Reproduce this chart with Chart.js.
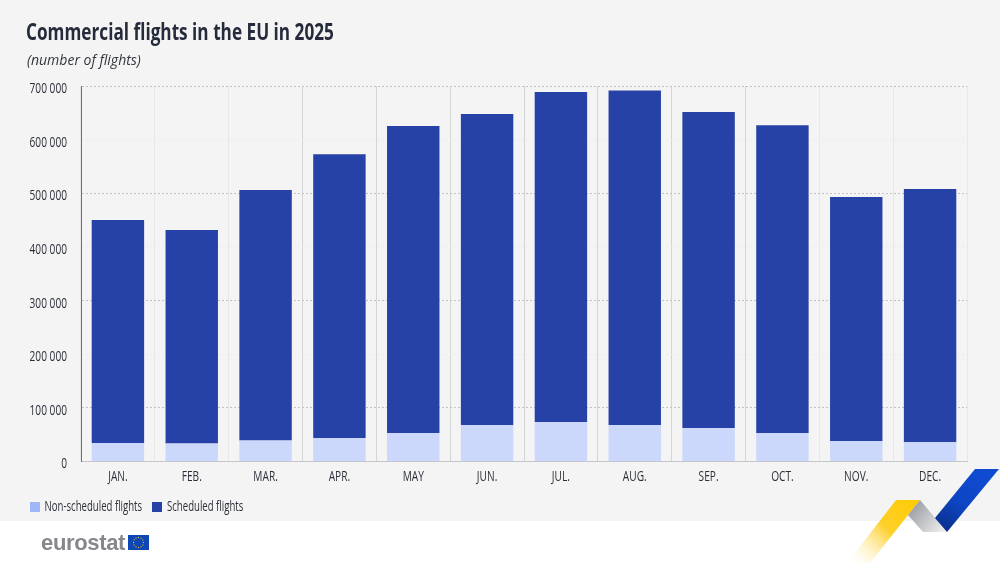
<!DOCTYPE html>
<html>
<head>
<meta charset="utf-8">
<title>Commercial flights in the EU in 2025</title>
<script src="https://cdn.jsdelivr.net/npm/chart.js@4"></script>
<style>
  html, body { margin: 0; padding: 0; background: #fff; }
  #wrap { position: relative; width: 1000px; height: 563px; overflow: hidden; }
  canvas { display: block; }
  #title { position: absolute; left: 26px; top: 14px; font: bold 24px "Open Sans", sans-serif; color: #252b3b; white-space: nowrap; transform-origin: left top; }
  #sub { position: absolute; left: 27px; top: 50px; font: italic 14px "Open Sans", sans-serif; color: #33363f; white-space: nowrap; }
  #logo { position: absolute; left: 41px; top: 530px; font: bold 22px "Liberation Sans", sans-serif; color: #85878d; letter-spacing: -0.35px; }
</style>
</head>
<body>
<div id="wrap">
  <canvas id="chart" width="1000" height="563"></canvas>
  <div id="title">Commercial flights in the EU in 2025</div>
  <div id="sub">(number of flights)</div>
  <div id="logo">eurostat</div>
</div>
<script>
const months = ['JAN.', 'FEB.', 'MAR.', 'APR.', 'MAY', 'JUN.', 'JUL.', 'AUG.', 'SEP.', 'OCT.', 'NOV.', 'DEC.'];
const nonScheduled = [34500, 33500, 39000, 44000, 53000, 68000, 73500, 68000, 62500, 53000, 38000, 36000];
const scheduled = [415500, 398000, 467000, 529000, 572500, 580000, 615500, 623500, 589000, 574000, 455000, 472000];
const yTicks = [0, 100000, 200000, 300000, 400000, 500000, 600000, 700000];
const seriesNames = ['Non-scheduled flights', 'Scheduled flights'];

const textColor = '#2c2f38';

// title font is too wide, squeeze it to the width in the picture
const titleEl = document.getElementById('title');
titleEl.style.transform = 'scaleX(' + (308 / titleEl.offsetWidth) + ')';

// no condensed font installed, so the small labels are squeezed on the canvas
function narrowText(c, text, x, y, align, squeeze) {
  c.save();
  c.translate(x, y);
  c.scale(squeeze, 1);
  c.font = '14px "Open Sans", sans-serif';
  c.fillStyle = textColor;
  c.textAlign = align;
  c.textBaseline = 'middle';
  c.fillText(text, 0, 0);
  c.restore();
}

const backdrop = {
  id: 'backdrop',
  beforeDraw(chart) {
    const c = chart.ctx;
    c.save();
    c.fillStyle = '#f4f4f4';
    c.fillRect(0, 0, 1000, 521);
    c.restore();
  },
  afterDraw(chart) {
    const c = chart.ctx;
    const { x, y } = chart.scales;

    // axis labels
    y.ticks.forEach((t, i) => narrowText(c, t.label, 67, y.getPixelForTick(i) + 3, 'right', 0.725));
    x.ticks.forEach((t, i) => narrowText(c, t.label, x.getPixelForTick(i), 477, 'center', 0.725));

    // legend
    c.save();
    c.fillStyle = '#9fb6f7';
    c.fillRect(30, 502, 10, 10);
    c.fillStyle = '#2742a6';
    c.fillRect(152, 502, 10, 10);
    c.restore();
    narrowText(c, seriesNames[0], 44.5, 507, 'left', 0.686);
    narrowText(c, seriesNames[1], 167, 507, 'left', 0.686);

    c.save();
    // flag
    c.fillStyle = '#0e47b5';
    c.fillRect(128, 535, 21, 15);
    c.fillStyle = '#ffd617';
    for (let i = 0; i < 12; i++) {
      const a = i * Math.PI / 6;
      c.fillRect(138.5 + Math.cos(a) * 5 - 0.5, 542.5 + Math.sin(a) * 5 - 0.5, 1, 1);
    }
    // yellow ribbon
    let g = c.createLinearGradient(915, 500, 852, 563);
    g.addColorStop(0, '#ffcb05');
    g.addColorStop(0.45, '#fdd02a');
    g.addColorStop(1, 'rgba(255,245,210,0)');
    c.fillStyle = g;
    c.beginPath();
    c.moveTo(896, 500); c.lineTo(920, 500); c.lineTo(870, 563); c.lineTo(847, 563);
    c.closePath(); c.fill();
    // grey ribbon
    g = c.createLinearGradient(912, 505, 945, 531);
    g.addColorStop(0, '#9b9da2');
    g.addColorStop(1, '#f0f0f0');
    c.fillStyle = g;
    c.beginPath();
    c.moveTo(920, 500); c.lineTo(947, 532); c.lineTo(923, 532); c.lineTo(908, 515);
    c.closePath(); c.fill();
    // blue ribbon
    g = c.createLinearGradient(975, 470, 938, 528);
    g.addColorStop(0, '#0f4bd0');
    g.addColorStop(0.5, '#0d46c4');
    g.addColorStop(1, '#0a2f8c');
    c.fillStyle = g;
    c.beginPath();
    c.moveTo(975, 469); c.lineTo(999, 469); c.lineTo(947, 532); c.lineTo(935, 518);
    c.closePath(); c.fill();
    c.restore();
  }
};

new Chart(document.getElementById('chart'), {
  type: 'bar',
  data: {
    labels: months,
    datasets: [
      { label: seriesNames[0], data: nonScheduled, backgroundColor: '#cbd7fb' },
      { label: seriesNames[1], data: scheduled, backgroundColor: '#2742a6' }
    ]
  },
  options: {
    responsive: false,
    animation: false,
    devicePixelRatio: 1,
    layout: { padding: { left: 81, right: 33, top: 86, bottom: 101.5 } },
    datasets: { bar: { categoryPercentage: 1, barPercentage: 0.71 } },
    plugins: {
      tooltip: { enabled: false },
      legend: { display: false }
    },
    scales: {
      x: {
        stacked: true,
        grid: {
          drawTicks: false,
          offset: true,
          // lines are fainter at both ends of the plot
          color: ctx => (ctx.index > 2 && ctx.index < 10) ? '#d4d4d4' : (ctx.index === 12 ? '#d8d8d8' : '#e8e8e8')
        },
        border: { color: '#c4c6cc' },
        ticks: { display: false, maxRotation: 0 }
      },
      y: {
        stacked: true,
        min: 0,
        max: 700000,
        afterBuildTicks(axis) { axis.ticks = yTicks.map(v => ({ value: v })); },
        grid: {
          drawTicks: false,
          color: ctx => (ctx.tick.value / 100000) % 2 === 1 ? '#c2c2c2' : (ctx.tick.value === 0 ? 'transparent' : '#ececec')
        },
        border: { color: '#6e7077', dash: [2, 2] },
        ticks: {
          display: false,
          callback: v => v === 0 ? '0' : (v / 1000) + ' 000'
        }
      }
    }
  },
  plugins: [backdrop]
});
</script>
</body>
</html>
